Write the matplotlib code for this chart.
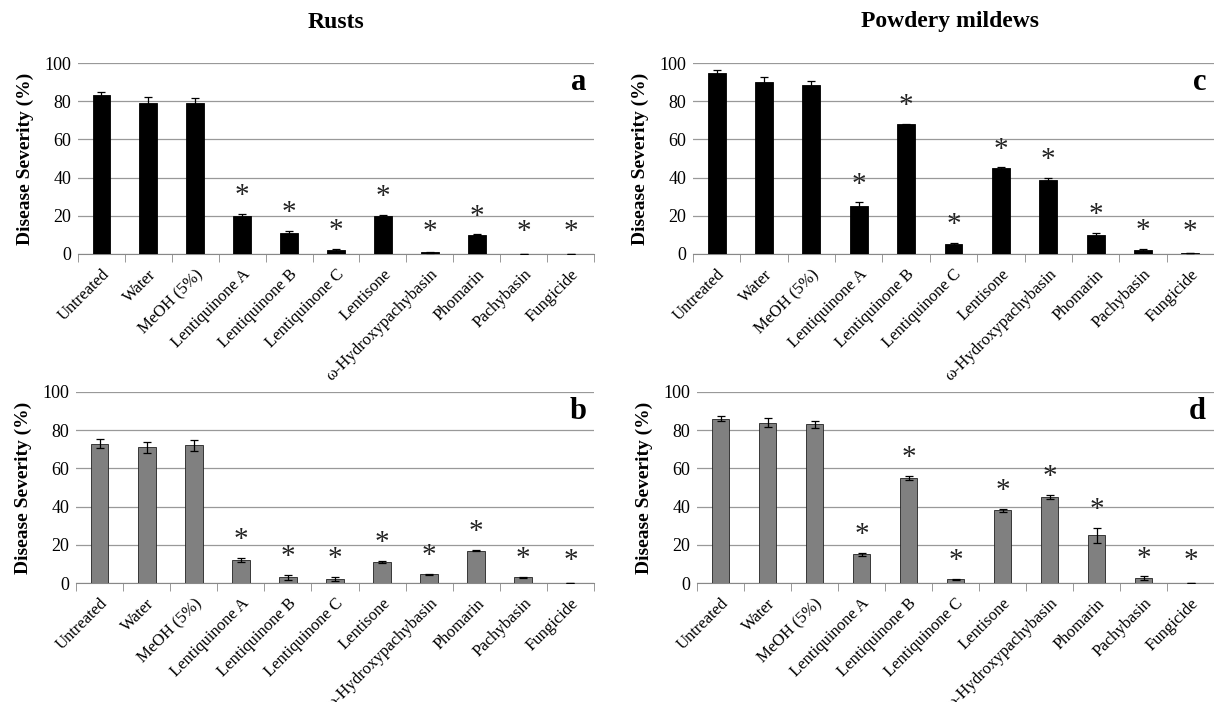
import numpy as np
import matplotlib.pyplot as plt
from matplotlib.ticker import FixedLocator, NullFormatter

plt.rcParams['font.family'] = ['Liberation Serif', 'DejaVu Serif']

treatments = ['Untreated', 'Water', 'MeOH (5%)', 'Lentiquinone A', 'Lentiquinone B',
              'Lentiquinone C', 'Lentisone', '\u03c9-Hydroxypachybasin', 'Phomarin',
              'Pachybasin', 'Fungicide']

# rusts
rust_a = [83, 79, 79, 20, 11, 2, 20, 1, 10, 0, 0]
rust_a_err = [2, 3, 2.5, 1, 1, 0.8, 0.5, 0.3, 0.3, 0, 0]
rust_b = [73, 71, 72, 12, 3, 2, 11, 4.5, 17, 3, 0]
rust_b_err = [2.5, 3, 3, 1, 1.3, 1, 0.5, 0.3, 0.2, 0.2, 0]

# powdery mildews
mildew_c = [95, 90, 88.5, 25, 68, 5, 45, 39, 10, 2, 0.5]
mildew_c_err = [1.5, 2.5, 2, 2, 0.3, 1, 0.3, 0.7, 1, 0.7, 0]
mildew_d = [86, 84, 83, 15, 55, 2, 38, 45, 25, 2.5, 0]
mildew_d_err = [1.2, 2.5, 2, 0.8, 1, 0.3, 1, 1, 4, 1, 0]

# first three bars are controls, the rest are significant (*)
significant = [False, False, False] + [True] * 8

W, H = 1214, 702
fig = plt.figure(figsize=(W / 100, H / 100), dpi=100)


def panel(rect, vals, errs, color, letter):
    ax = fig.add_axes([rect[0] / W, 1 - rect[3] / H, (rect[2] - rect[0]) / W,
                       (rect[3] - rect[1]) / H])
    x = np.arange(len(vals))
    ax.bar(x, vals, width=0.38, color=color, edgecolor='#222222' if color != 'black' else 'black',
           linewidth=0.6, zorder=3)
    ax.errorbar(x, vals, yerr=errs, fmt='none', ecolor='black', elinewidth=0.9,
                capsize=3, capthick=0.9, zorder=4)
    for xi, v, e, s in zip(x, vals, errs, significant):
        if s:
            ax.text(xi, max(v + e, 2) + 2.5, '*', ha='center', va='bottom', fontsize=21,
                    color='#222222')
    ax.set_xlim(-0.5, len(vals) - 0.5)
    ax.set_ylim(0, 100)
    ax.set_yticks(range(0, 101, 20))
    ax.yaxis.grid(True, color='#999999', linewidth=0.9, zorder=0)
    ax.tick_params(axis='y', length=0, labelsize=13, pad=5)
    for s in ['top', 'right', 'left']:
        ax.spines[s].set_visible(False)
    ax.spines['bottom'].set_color('#888888')
    ax.set_xticks(x)
    ax.set_xticklabels(treatments, rotation=45, ha='right', rotation_mode='anchor',
                       fontsize=12)
    ax.tick_params(axis='x', which='major', length=0, pad=9)
    ax.xaxis.set_minor_locator(FixedLocator(np.arange(-0.5, len(vals), 1.0)))
    ax.xaxis.set_minor_formatter(NullFormatter())
    ax.tick_params(axis='x', which='minor', length=6, color='#888888', direction='out')
    ax.set_ylabel('Disease Severity (%)', fontsize=14, fontweight='bold', labelpad=7)
    ax.text(0.985, 0.9, letter, transform=ax.transAxes, ha='right', va='center',
            fontsize=22, fontweight='bold')
    ax.set_axisbelow(True)
    return ax


panel((78, 63, 594, 254), rust_a, rust_a_err, 'black', 'a')
panel((693, 63, 1214, 254), mildew_c, mildew_c_err, 'black', 'c')
panel((76, 392, 594, 583), rust_b, rust_b_err, '#808080', 'b')
panel((697, 392, 1214, 583), mildew_d, mildew_d_err, '#808080', 'd')

fig.text(336 / W, 1 - 22 / H, 'Rusts', ha='center', va='center', fontsize=17,
         fontweight='bold')
fig.text(950 / W, 1 - 22 / H, 'Powdery mildews', ha='center', va='center', fontsize=17,
         fontweight='bold')

fig.savefig('out.png', dpi=100)
